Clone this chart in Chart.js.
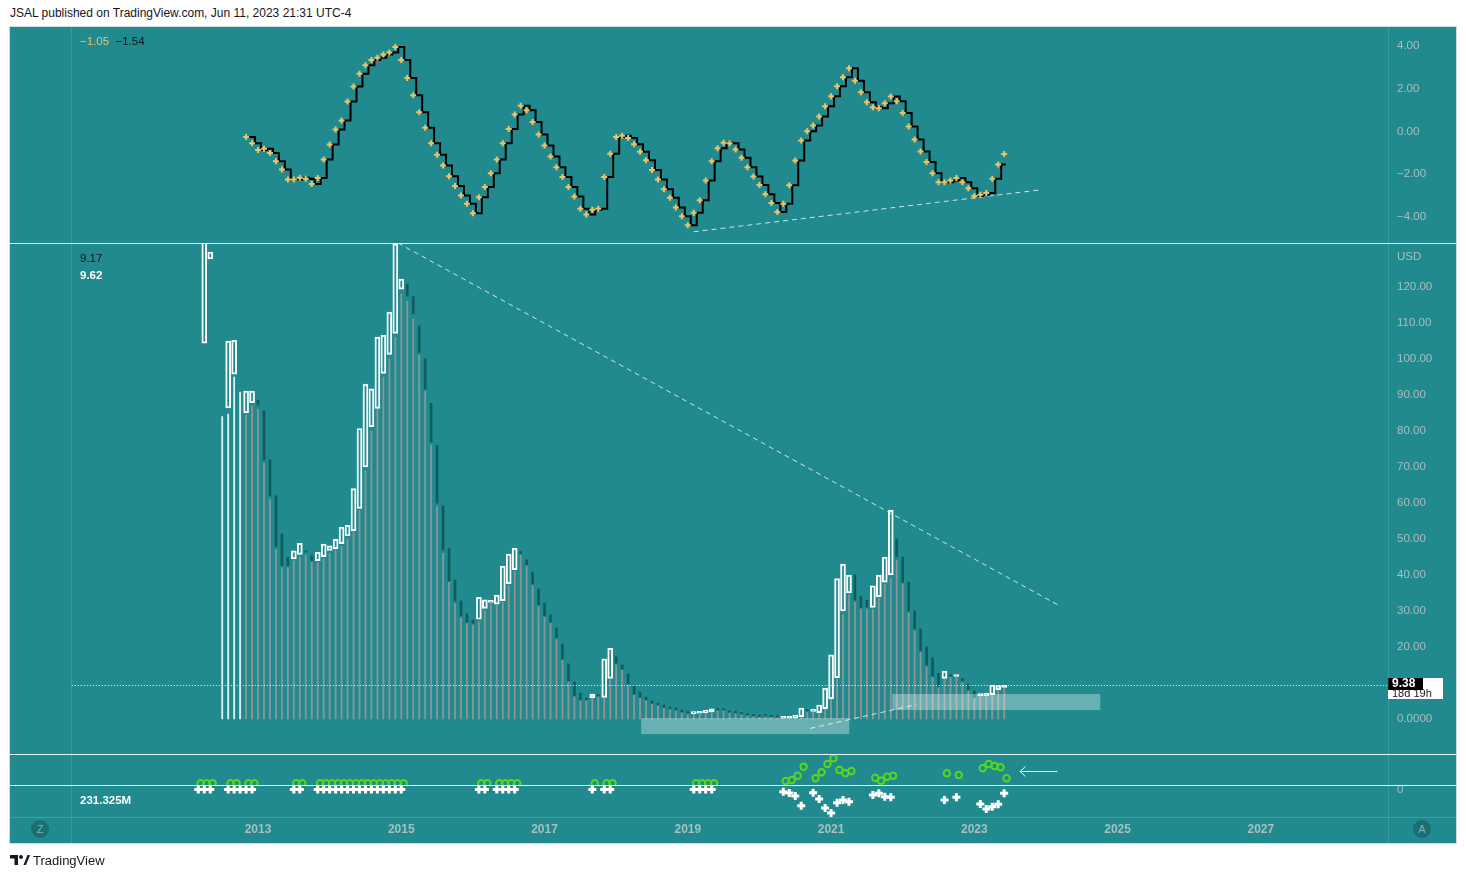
<!DOCTYPE html>
<html>
<head>
<meta charset="utf-8">
<script src="https://cdn.jsdelivr.net/npm/chart.js@4.4.1/dist/chart.umd.min.js"></script>
<style>
body { margin:0; background:#fff; width:1466px; height:879px; overflow:hidden; font-family:"Liberation Sans", Arial, sans-serif; }
#hdr { position:absolute; left:10px; top:6px; font-size:12px; color:#131722; }
#frame { position:absolute; left:10px; top:27px; width:1446px; height:816px; background:#208a8e; box-shadow:0 0 0 1px #cfdcdc; overflow:hidden; }
#frame canvas { position:absolute; left:0; }
.hl { position:absolute; left:0; width:1446px; height:1px; background:#e8f2f2; }
.vl { position:absolute; top:0; width:1px; height:816px; background:rgba(255,255,255,0.13); }
.lg { position:absolute; font-size:11.5px; line-height:13px; white-space:nowrap; }
.btn { position:absolute; width:18px; height:18px; border-radius:9px; background:#1b6e72; color:#7fb0b2; font-size:11px; line-height:18px; text-align:center; }
#foot { position:absolute; left:10px; top:853px; font-size:13px; color:#131722; }
#foot svg { vertical-align:-1px; margin-right:3px; }
</style>
</head>
<body>
<div id="hdr">JSAL published on TradingView.com, Jun 11, 2023 21:31 UTC-4</div>
<div id="frame">
  <canvas id="oscChart" width="1446" height="216" style="top:0"></canvas>
  <canvas id="priceChart" width="1446" height="511" style="top:216px"></canvas>
  <canvas id="dotChart" width="1446" height="31" style="top:727px"></canvas>
  <canvas id="crossChart" width="1446" height="58" style="top:758px"></canvas>
  <div class="vl" style="left:61px"></div>
  <div class="vl" style="left:1378px"></div>
  <div class="hl" style="top:216px"></div>
  <div class="hl" style="top:727px"></div>
  <div class="hl" style="top:758px"></div>
  <div class="hl" style="top:790px; background:rgba(255,255,255,0.15)"></div>
  <div class="lg" style="left:70px; top:8px"><span style="color:#e9c46a">−1.05</span>&nbsp; <span style="color:#131722">−1.54</span></div>
  <div class="lg" style="left:70px; top:225px; color:#131722">9.17</div>
  <div class="lg" style="left:70px; top:242px; color:#fff; font-weight:bold">9.62</div>
  <div class="lg" style="left:70px; top:767px; color:#fff; font-weight:bold">231.325M</div>
  <div class="btn" style="left:21px; top:793px">Z</div>
  <div class="btn" style="left:1403px; top:793px">A</div>
</div>
<div id="foot"><svg width="20" height="12" viewBox="0 0 20 12"><path d="M0 1h8v10h-3.5v-6.5h-4.5z" fill="#131722"/><circle cx="11" cy="3" r="2" fill="#131722"/><path d="M13.5 11l4-10h2.5l-4 10z" fill="#131722"/></svg>TradingView</div>

<script>
// months are counted from Jan 2013 (0 = Jan 2013)
const X_MIN = -41.55, X_MAX = 189.3;
const yearTicks = [0, 24, 48, 72, 96, 120, 144, 168];
const yearLabels = ['2013', '2015', '2017', '2019', '2021', '2023', '2025', '2027'];

// oscillator, Nov 2012 .. Jun 2023
const oscStart = -2;
const osc = [-0.26, -0.55, -0.86, -0.81, -1.01, -1.39, -1.78, -2.24, -2.24, -2.16,
  -2.21, -2.45, -2.18, -1.31, -0.61, 0.09, 0.51, 1.4, 2.1, 2.7,
  3.1, 3.35, 3.45, 3.6, 3.7, 3.95, 3.35, 2.5, 1.7, 0.9,
  0.17, -0.55, -1.09, -1.59, -2.09, -2.55, -2.99, -3.38, -3.82, -3.07,
  -2.6, -1.95, -1.31, -0.55, 0.12, 0.8, 1.2, 1.0, 0.44, -0.14,
  -0.65, -1.17, -1.67, -2.13, -2.6, -3.04, -3.61, -3.88, -3.66, -3.61,
  -2.13, -1.04, -0.26, -0.2, -0.3, -0.6, -0.95, -1.35, -1.8, -2.25,
  -2.7, -3.1, -3.55, -3.96, -4.39, -3.8, -3.22, -2.29, -1.39, -0.78,
  -0.53, -0.55, -0.84, -1.23, -1.67, -2.1, -2.5, -2.94, -3.35, -3.77,
  -3.38, -2.52, -1.36, -0.42, 0.01, 0.28, 0.70, 1.18, 1.65, 2.12,
  2.54, 2.96, 2.38, 1.84, 1.37, 1.14, 1.09, 1.32, 1.64, 1.42,
  0.86, 0.23, -0.37, -0.93, -1.43, -1.95, -2.37, -2.37, -2.29, -2.18,
  -2.37, -2.65, -3.02, -2.96, -2.88, -2.21, -1.54, -1.05];
const oscTrend = [[72.98, -4.69], [130.8, -2.74]];
const oscTicks = [-4, -2, 0, 2, 4];

// monthly candles, Apr 2012 .. Jun 2023
const candleStart = -9;
const opens = [104.4, 127.8, null, null, 86.4, 95.8, null, 85.1, 87.9, 88.5,
  85.6, 72, 62, 51.4, 44.9, 44.5, 45.7, 46.5, 45.3, 44,
  45.1, 46.8, 47.3, 48.7, 50.9, 52.3, 58.5, 70, 81.2, 86.3,
  96, 101.3, 107.1, 119.4, 120.8, 117.3, 109.2, 100, 87.7, 76,
  59.2, 47.4, 38.6, 32.8, 29.2, 27.5, 27.7, 30.7, 32.4, 31.9,
  32.9, 37.6, 41.5, 46.5, 44.2, 40.8, 36.1, 32.2, 28.9, 25.3,
  20.8, 15.3, 10.3, 7.2, 5.8, 5.9, 6.5, 6.0, 11.3, 17.3,
  15, 12.5, 9.2, 7.5, 6.1, 5.0, 4.4, 3.9, 3.3, 3.05,
  2.5, 1.9, 1.5, 1.6, 1.75, 2.0, 2.8, 2.6, 2.2, 1.9,
  1.7, 1.4, 1.1, 0.9, 0.9, 0.8, 0.65, 0.2, 0.2, 0.4,
  0.65, 2.3, 2.1, 1.75, 2.9, 5.6, 11.5, 30, 35, 40,
  34, 33, 31, 34, 38, 40, 50, 45, 38, 30,
  25, 20, 17, 12.7, 11.3, 12.1, 11.8, 11.3, 9.7, 7.8,
  6.5, 6.5, 6.75, 8.1, 8.8];
const closes = [140, 129.7, null, null, 105, 105.2, null, 91.1, 91.1, 87.2,
  72, 62, 47.9, 42.6, 42.6, 46.7, 48.8, 46.3, 44, 46.3,
  48.6, 48.1, 49.9, 53.3, 53.8, 64, 80.7, 93, 91.7, 106.1,
  106.6, 113, 132, 122.2, 117.5, 112.5, 101.8, 91.7, 77, 60,
  46.9, 38.3, 32.8, 28.6, 26.9, 26.6, 33.8, 33.1, 32.6, 34.4,
  42.5, 45.8, 47.4, 46, 42.8, 37.5, 31.7, 28.6, 26.9, 22.5,
  16.7, 10.6, 6.4, 5.3, 5.3, 6.9, 6.4, 16.7, 19.6, 15.5,
  13.9, 9.7, 6.9, 6.0, 5.3, 4.4, 3.9, 3.25, 2.8, 2.5,
  1.9, 1.6, 1.9, 1.9, 2.5, 2.8, 2.5, 2.5, 1.9, 1.7,
  1.4, 1.1, 0.9, 0.7, 0.8, 0.65, 0.5, 0.35, 0.6, 1.1,
  3.05, 2.2, 2.2, 3.9, 8.6, 17.8, 39, 43, 40, 33,
  31, 31, 37, 40, 45, 58, 45, 38, 30, 25,
  19, 15, 11.9, 9.0, 13.3, 11.9, 11.9, 10.5, 8.1, 5.9,
  6.9, 7.2, 9.4, 9.3, 9.38];
const lows = [null, null, null, 84, 84.7, 95, 90.8, 84.5, 87, 86,
  71, 61, 47, 42, 42, 44, 45, 45.5, 43.5, 43.5,
  44.5, 46, 47, 48, 50, 52, 58, 69, 80, 86,
  95, 100, 106, 118, 116, 111, 101, 91, 76, 59,
  46, 38, 32, 28, 26.5, 26, 27, 30, 32, 31.5,
  32.5, 37, 41, 45.5, 42.5, 37, 31.3, 28.3, 26.5, 22,
  16.3, 10.3, 6.2, 5.1, 5.1, 5.7, 6.2, 5.8, 11, 15,
  13.5, 9.5, 6.7, 5.8, 5.1, 4.2, 3.7, 3.1, 2.7, 2.4,
  1.8, 1.5, 1.4, 1.5, 1.7, 1.9, 2.4, 2.4, 1.8, 1.6,
  1.3, 1.0, 0.85, 0.65, 0.7, 0.6, 0.45, 0.15, 0.15, 0.35,
  0.6, 2.1, 2.0, 1.7, 2.8, 5.5, 11, 29, 34.5, 32.5,
  30.5, 30.5, 30.5, 33.5, 37.5, 39, 44, 37.5, 29.5, 24.5,
  18.5, 14.5, 11.5, 8.8, 11, 11.7, 11.6, 10.3, 7.9, 5.7,
  6.3, 6.3, 6.6, 7.9, 8.6];
const lastPrice = 9.38;
const priceTicks = [0, 20, 30, 40, 50, 60, 70, 80, 90, 100, 110, 120];
const priceTrendHigh = [[23.45, 132.2], [134.0, 31.7]];
const priceTrendLow = [[92.5, -2.6], [110.3, 4.0]];
const zones = [[64.19, 99.05, -4.2, 0.28], [106.25, 141.1, 2.5, 6.94]];

// lower panes: circle marks and cross marks
const circleMonths = [-10, -9, -8, -5, -4, -2, -1, 6, 7, 10, 11, 12, 13, 14, 15, 16, 17, 18, 19, 20, 21, 22, 23, 24,
  37, 38, 40, 41, 42, 43, 56, 58, 59, 73, 74, 75, 76,
  88, 89, 90, 91, 93, 94, 95, 96, 97, 98, 99, 103, 104, 105, 106, 115, 117, 121, 122, 123, 124, 125];
const circleVals = [1.8, 1.8, 1.8, 1.8, 1.8, 1.8, 1.8, 1.8, 1.8, 1.8, 1.8, 1.8, 1.8, 1.8, 1.8, 1.8, 1.8, 1.8, 1.8, 1.8, 1.8, 1.8, 1.8, 1.8,
  1.8, 1.8, 1.8, 1.8, 1.8, 1.8, 1.8, 1.8, 1.8, 1.8, 1.8, 1.8, 1.8,
  4, 5, 9.3, 18.3, 6.7, 12.7, 21, 26.7, 15, 11.7, 14, 7.3, 4.3, 8.3, 9.3, 11.7, 10, 16.7, 21, 19, 17.7, 6.7];
const crossMonths = [-10, -9, -8, -5, -4, -3, -2, -1, 6, 7, 10, 11, 12, 13, 14, 15, 16, 17, 18, 19, 20, 21, 22, 23, 24,
  37, 38, 40, 41, 42, 43, 56, 58, 59, 73, 74, 75, 76,
  88, 89, 90, 91, 93, 94, 95, 96, 97, 98, 99, 103, 104, 105, 106, 115, 117, 121, 122, 123, 124, 125];
const crossVals = [0.5, 0.5, 0.5, 0.5, 0.5, 0.5, 0.5, 0.5, 0.5, 0.5, 0.5, 0.5, 0.5, 0.5, 0.5, 0.5, 0.5, 0.5, 0.5, 0.5, 0.5, 0.5, 0.5, 0.5, 0.5,
  0.5, 0.5, 0.5, 0.5, 0.5, 0.5, 0.5, 0.5, 0.5, 0.5, 0.5, 0.5, 0.5,
  -1.7, -3, -6, -15.7, -2.7, -9, -18, -23, -12.7, -10, -11.7, -5, -3.3, -6.7, -7.3, -10, -7.3, -14, -19, -16.7, -14.3, -3.3];
const arrowMark = [[133.9, 14], [127.7, 14]];

const TEXT = '#a9bfc0';
const FONT = '"Liberation Sans", Arial, sans-serif';
const TREND = 'rgba(225,238,238,0.9)';

function noPad(s) { s.paddingLeft = 0; s.paddingRight = 0; s.paddingTop = 0; s.paddingBottom = 0; }

function baseOptions(yMin, yMax, ticks, fmt, showX) {
  return {
    responsive: false, animation: false, devicePixelRatio: 1, events: [],
    layout: { padding: 0, autoPadding: false },
    plugins: { legend: { display: false }, tooltip: { enabled: false } },
    scales: {
      x: {
        type: 'linear', min: X_MIN, max: X_MAX, display: showX, offset: false,
        grid: { display: false, drawTicks: false }, border: { display: false },
        afterBuildTicks: s => { s.ticks = yearTicks.map(v => ({ value: v })); },
        afterFit: s => { s.height = showX ? 26 : 0; noPad(s); },
        ticks: { autoSkip: false, maxRotation: 0, padding: 5, color: TEXT,
          font: { family: FONT, size: 12, weight: 'bold' },
          callback: v => yearLabels[yearTicks.indexOf(v)] }
      },
      y: {
        position: 'right', min: yMin, max: yMax,
        grid: { display: false, drawTicks: false }, border: { display: false },
        afterFit: s => { s.width = 68; noPad(s); },
        afterBuildTicks: s => { s.ticks = ticks.map(v => ({ value: v })); },
        ticks: { padding: 9, color: TEXT, font: { family: FONT, size: 11.5 }, callback: fmt }
      }
    }
  };
}

function pts(pairs) { return pairs.map(p => ({ x: p[0], y: p[1] })); }

// ---- oscillator pane
const oscPts = osc.map((v, i) => ({ x: oscStart + i, y: v }));
const stepPts = osc.slice(0, -1).map((v, i) => ({ x: oscStart + i + 0.5, y: v }));
stepPts.push({ x: oscStart + osc.length - 1 + 0.3, y: osc[osc.length - 2] });

new Chart(document.getElementById('oscChart'), {
  type: 'line',
  data: { datasets: [
    { data: oscPts, showLine: false, pointStyle: 'cross', pointRadius: 3, pointBorderWidth: 2,
      pointBorderColor: '#e9c46a', order: 0 },
    { data: stepPts, stepped: true, borderColor: '#000', borderWidth: 2, pointRadius: 0, order: 1 },
    { data: pts(oscTrend), borderColor: TREND, borderWidth: 1, borderDash: [5, 4], pointRadius: 0, order: 2 }
  ] },
  options: baseOptions(-5.216, 4.889, oscTicks, v => v.toFixed(2).replace('-', '−'), false)
});

// ---- price pane
const upBodies = [], downBodies = [], columns = [];
opens.forEach((o, i) => {
  const m = candleStart + i, c = closes[i];
  if (lows[i] != null) columns.push({ x: m, y: [0, lows[i]] });
  if (o == null) return;
  if (c >= o) upBodies.push({ x: m, y: [o, c] });
  else downBodies.push({ x: m, y: [c, o] });
});

const priceDecor = {
  id: 'priceDecor',
  afterDatasetsDraw(chart) {
    const { ctx, chartArea: a, scales: { x, y } } = chart;
    ctx.save();
    ctx.fillStyle = 'rgba(255,255,255,0.33)';
    zones.forEach(z => {
      const x1 = x.getPixelForValue(z[0]), x2 = x.getPixelForValue(z[1]);
      const y1 = y.getPixelForValue(z[3]), y2 = y.getPixelForValue(z[2]);
      ctx.fillRect(x1, y1, x2 - x1, y2 - y1);
    });
    const py = Math.round(y.getPixelForValue(lastPrice)) + 0.5;
    ctx.strokeStyle = '#fff';
    ctx.lineWidth = 1;
    ctx.setLineDash([1, 2]);
    ctx.beginPath();
    ctx.moveTo(x.getPixelForValue(-31.2), py);
    ctx.lineTo(a.right, py);
    ctx.stroke();
    ctx.restore();
  },
  afterDraw(chart) {
    const { ctx, chartArea: a, scales: { y } } = chart;
    const py = Math.round(y.getPixelForValue(lastPrice));
    ctx.save();
    ctx.fillStyle = '#fff';
    ctx.fillRect(a.right, py - 7, 55, 21);
    ctx.fillStyle = '#000';
    ctx.fillRect(a.right, py - 7, 35, 12);
    ctx.textBaseline = 'middle';
    ctx.font = 'bold 12px ' + FONT;
    ctx.fillStyle = '#fff';
    ctx.fillText(lastPrice.toFixed(2), a.right + 4, py - 1);
    ctx.font = '11px ' + FONT;
    ctx.fillStyle = '#131722';
    ctx.fillText('18d 19h', a.right + 4, py + 9);
    ctx.font = '11.5px ' + FONT;
    ctx.fillStyle = TEXT;
    ctx.fillText('USD', a.right + 9, 14);
    ctx.restore();
  }
};

new Chart(document.getElementById('priceChart'), {
  type: 'bar',
  data: { datasets: [
    { type: 'line', data: pts(priceTrendHigh), borderColor: TREND, borderWidth: 1, borderDash: [5, 4], pointRadius: 0, order: 1 },
    { type: 'line', data: pts(priceTrendLow), borderColor: TREND, borderWidth: 1, borderDash: [5, 4], pointRadius: 0, order: 1 },
    { data: upBodies, grouped: false, barThickness: 5, backgroundColor: 'rgba(0,0,0,0)',
      borderColor: '#ffffff', borderWidth: 1.3, borderSkipped: false, minBarLength: 2, order: 3 },
    { data: downBodies, grouped: false, barThickness: 2, backgroundColor: '#0f5c5e',
      borderWidth: 0, minBarLength: 1.5, order: 4 },
    { data: columns, grouped: false, barThickness: 1.2, borderWidth: 0, order: 5,
      backgroundColor: c => (c.raw && c.raw.x < -2) ? '#dcefef' : '#8b9595' }
  ] },
  options: baseOptions(-9.72, 132.22, priceTicks, v => v === 0 ? '0.0000' : v.toFixed(2), false),
  plugins: [priceDecor]
});

// ---- circle marks pane
const arrowDecor = {
  id: 'arrowDecor',
  afterDatasetsDraw(chart) {
    const { ctx, scales: { x, y } } = chart;
    const x1 = x.getPixelForValue(arrowMark[0][0]), x2 = x.getPixelForValue(arrowMark[1][0]);
    const py = Math.round(y.getPixelForValue(arrowMark[0][1])) + 0.5;
    ctx.save();
    ctx.strokeStyle = '#fff';
    ctx.lineWidth = 1;
    ctx.beginPath();
    ctx.moveTo(x1, py); ctx.lineTo(x2, py);
    ctx.moveTo(x2 + 5, py - 5); ctx.lineTo(x2, py); ctx.lineTo(x2 + 5, py + 5);
    ctx.stroke();
    ctx.restore();
  }
};

new Chart(document.getElementById('dotChart'), {
  type: 'line',
  data: { datasets: [
    { data: circleMonths.map((m, i) => ({ x: m + 0.4, y: circleVals[i] })), showLine: false,
      pointStyle: 'circle', pointRadius: 3.2, pointBorderWidth: 2, pointBorderColor: '#5cd61a',
      pointBackgroundColor: 'rgba(0,0,0,0)', clip: false }
  ] },
  options: baseOptions(0, 31, [], v => '', false),
  plugins: [arrowDecor]
});

// ---- cross marks pane + time axis
new Chart(document.getElementById('crossChart'), {
  type: 'line',
  data: { datasets: [
    { data: crossMonths.map((m, i) => ({ x: m, y: crossVals[i] })), showLine: false,
      pointStyle: 'cross', pointRadius: 4, pointBorderWidth: 3, pointBorderColor: '#ffffff' }
  ] },
  options: baseOptions(-27, 5, [0], v => String(v), true)
});
</script>
</body>
</html>
